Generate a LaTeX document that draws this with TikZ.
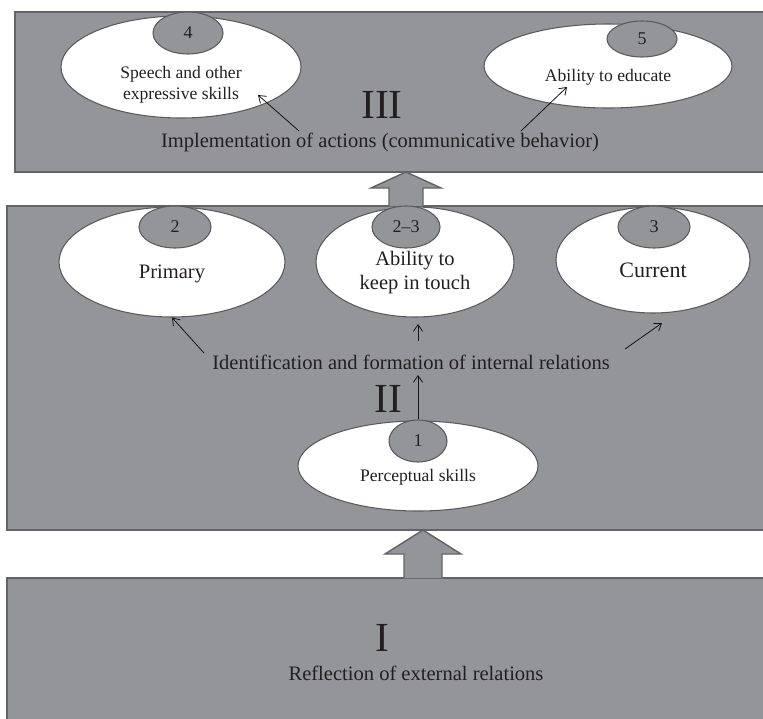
\documentclass[tikz,border=0pt]{standalone}
\usepackage{fontspec}
\setmainfont{Liberation Serif}
\usetikzlibrary{shapes.geometric}
\usetikzlibrary{arrows.meta}

\tikzset{
  levelbox/.style={color={rgb, 255:red, 100; green, 100; blue, 104 }, line width=1.1pt, fill={rgb, 255:red, 148; green, 149; blue, 153 }},
  bigoval/.style={ellipse, draw={rgb, 255:red, 90; green, 90; blue, 94 }, line width=0.8pt, fill=white, inner sep=0pt},
  numoval/.style={ellipse, draw={rgb, 255:red, 90; green, 90; blue, 94 }, line width=0.8pt, fill={rgb, 255:red, 148; green, 149; blue, 153 }, inner sep=0pt},
  numtext/.style={font=\fontsize{13.5}{15}\selectfont, color={rgb, 255:red, 35; green, 31; blue, 32 }},
  ovaltext/.style={font=\fontsize{13.2}{15}\selectfont, color={rgb, 255:red, 35; green, 31; blue, 32 }, align=center},
  maintext/.style={font=\fontsize{15.4}{17}\selectfont, color={rgb, 255:red, 35; green, 31; blue, 32 }, align=center},
  roman/.style={font=\fontsize{31}{33}\selectfont, color={rgb, 255:red, 35; green, 31; blue, 32 }},
  thinarrow/.style={-{Straight Barb[length=5pt,width=7pt]}, line width=0.6pt, color={rgb, 255:red, 20; green, 20; blue, 20 }}
}

\begin{document}
\begin{tikzpicture}[x=0.75pt,y=0.75pt,yscale=-1,xscale=1]
\useasboundingbox (0,0) rectangle (763,718);

%Shape: Rectangle [level III]
\draw [levelbox] (15,12) -- (767,12) -- (767,172) -- (15,172) -- cycle ;
%Shape: Rectangle [level II]
\draw [levelbox] (7,206) -- (767,206) -- (767,530) -- (7,530) -- cycle ;
%Shape: Rectangle [level I]
\draw [levelbox] (7,578) -- (767,578) -- (767,722) -- (7,722) -- cycle ;

%Shape: Up Arrow [II to III]
\draw [levelbox] (389,206) -- (389,188) -- (371,188) -- (406,172) -- (441,188) -- (423,188) -- (423,206) ;
%Shape: Up Arrow [I to II]
\draw [levelbox] (404,578) -- (404,554) -- (385,554) -- (423,530) -- (461,554) -- (442,554) -- (442,578) ;

%Level III
\node [bigoval, minimum width=180pt, minimum height=76.5pt] (speech) at (181,67) {};
\node [numoval, minimum width=52.5pt, minimum height=31.5pt] (n4) at (188,33) {};
\node [numtext] at (n4) {4};
\node [ovaltext] (speechtxt) at (181,85) {Speech and other\\[1pt]expressive skills};
\node [bigoval, minimum width=186pt, minimum height=63pt] (educate) at (608,66) {};
\node [numoval, minimum width=52.5pt, minimum height=27pt] (n5) at (642,39) {};
\node [numtext] at (n5) {5};
\node [ovaltext] (educatetxt) at (608,77) {Ability to educate};
\node [roman] (rIII) at (382,105) {III};
\node [maintext] (actions) at (380,142) {Implementation of actions (communicative behavior)};
\coordinate (a1) at (299,131);
\coordinate (a2) at (521,131);
\draw [thinarrow] (a1) -- (258,95);
\draw [thinarrow] (a2) -- (567,87);

%Level II
\node [bigoval, minimum width=169.5pt, minimum height=82.5pt] (primary) at (172,262) {};
\node [numoval, minimum width=54pt, minimum height=31.5pt] (n2) at (175,227) {};
\node [numtext] at (n2) {2};
\node [maintext] (primarytxt) at (172,274) {Primary};
\node [bigoval, minimum width=148.5pt, minimum height=82.5pt] (touch) at (415,262) {};
\node [numoval, minimum width=51pt, minimum height=31.5pt] (n23) at (406,227) {};
\node [numtext] at (n23) {2--3};
\node [maintext] (touchtxt) at (415,273) {Ability to\\[1pt]keep in touch};
\node [bigoval, minimum width=145.5pt, minimum height=79.5pt] (current) at (653,260) {};
\node [numoval, minimum width=54pt, minimum height=31.5pt] (n3) at (654,227) {};
\node [numtext] at (n3) {3};
\node [maintext, font=\fontsize{16.5}{18}\selectfont] (currenttxt) at (653,270) {Current};
\node [maintext] (relations) at (411,362) {Identification and formation of internal relations};
\coordinate (b1) at (204,353);
\coordinate (b2) at (418,341);
\coordinate (b3) at (625,349);
\draw [thinarrow] (b1) -- (primary.south);
\draw [thinarrow] (b2) -- (418,324);
\draw [thinarrow] (b3) -- (662,323);
\node [roman] (rII) at (388,399) {II};
\node [bigoval, minimum width=180pt, minimum height=67.5pt] (percept) at (418,466) {};
\node [numoval, minimum width=43.5pt, minimum height=31.5pt] (n1) at (418,441) {};
\node [numtext] at (n1) {1};
\node [ovaltext] (percepttxt) at (418,477) {Perceptual skills};
\draw [thinarrow] (n1.north) -- (418,375);

%Level I
\node [roman] (rI) at (382,638) {I};
\node [maintext] (external) at (416,673) {Reflection of external relations};

\end{tikzpicture}
\end{document}
